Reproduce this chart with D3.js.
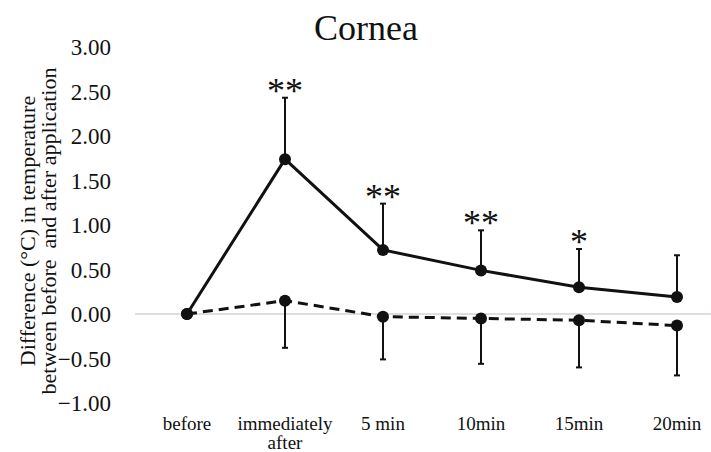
<!DOCTYPE html>
<html>
<head>
<meta charset="utf-8">
<script src="https://cdn.jsdelivr.net/npm/d3@7"></script>
<style>
  html, body { margin: 0; padding: 0; background: #fff; }
  svg { display: block; }
  svg text { font-family: "Liberation Serif", "Times New Roman", serif !important; }
</style>
</head>
<body>
<svg id="chart" width="711" height="452"></svg>
<script>
const categories = ["before", "immediately\nafter", "5 min", "10min", "15min", "20min"];
const solidMean = [0, 1.74, 0.72, 0.49, 0.30, 0.19];
const solidErr  = [0, 0.69, 0.52, 0.45, 0.43, 0.47];
const dashedMean = [0, 0.15, -0.03, -0.05, -0.07, -0.13];
const dashedErr  = [0, 0.53, 0.48, 0.51, 0.53, 0.56];
const stars = ["", "**", "**", "**", "*", ""];
const yTicks = [3, 2.5, 2, 1.5, 1, 0.5, 0, -0.5, -1];
const title = "Cornea";
const yTitle = ["Difference (°C) in temperature", "between before  and after application"];

const svg = d3.select("#chart");
const x = d3.scalePoint().domain(categories).range([187, 677]);
const y = d3.scaleLinear().domain([-1, 3]).range([403, 47]);

// title
svg.append("text").attr("x", 366).attr("y", 40).attr("text-anchor", "middle")
  .attr("font-size", 36).attr("fill", "#111").text(title);

// y tick labels
const yAxis = d3.axisLeft(y).tickValues(yTicks).tickFormat(d3.format(".2f")).tickSize(0).tickPadding(0);
const gy = svg.append("g").attr("transform", "translate(111,0)").call(yAxis);
gy.attr("font-family", null);
gy.select(".domain").remove();
gy.selectAll("text").attr("font-size", 23).attr("fill", "#111").attr("dy", "0.34em");

// y axis title
yTitle.forEach((t, i) => {
  svg.append("text")
    .attr("transform", `translate(${35 + i * 21},231) rotate(-90)`)
    .attr("text-anchor", "middle").attr("font-size", 22).attr("fill", "#111")
    .style("white-space", "pre").text(t);
});

// zero line
svg.append("line").attr("x1", 135).attr("x2", 711).attr("y1", y(0)).attr("y2", y(0))
  .attr("stroke", "#e2dcdc").attr("stroke-width", 2);

// x labels
categories.forEach(c => {
  const lines = c.split("\n");
  const t = svg.append("text").attr("text-anchor", "middle").attr("font-size", 19).attr("fill", "#111");
  lines.forEach((l, i) => {
    t.append("tspan").attr("x", x(c)).attr("y", 430 + i * 19).text(l);
  });
});

const line = d3.line().x(d => x(d.c)).y(d => y(d.v));
const solidData = categories.map((c, i) => ({c, v: solidMean[i], e: solidErr[i], s: stars[i]}));
const dashedData = categories.map((c, i) => ({c, v: dashedMean[i], e: dashedErr[i]}));

// error bars
function errBars(data, dir) {
  const g = svg.append("g").attr("stroke", "#111").attr("stroke-width", 2);
  data.filter(d => d.e > 0).forEach(d => {
    const end = d.v + dir * d.e;
    g.append("line").attr("x1", x(d.c)).attr("x2", x(d.c)).attr("y1", y(d.v)).attr("y2", y(end));
    g.append("line").attr("x1", x(d.c) - 3).attr("x2", x(d.c) + 3).attr("y1", y(end)).attr("y2", y(end));
  });
}
errBars(dashedData, -1);
errBars(solidData, 1);

svg.append("path").datum(dashedData).attr("d", line).attr("fill", "none")
  .attr("stroke", "#111").attr("stroke-width", 3).attr("stroke-dasharray", "10,6");
svg.append("path").datum(solidData).attr("d", line).attr("fill", "none")
  .attr("stroke", "#111").attr("stroke-width", 3);

svg.append("g").selectAll("circle").data(dashedData).join("circle")
  .attr("cx", d => x(d.c)).attr("cy", d => y(d.v)).attr("r", 6).attr("fill", "#111");
svg.append("g").selectAll("circle").data(solidData).join("circle")
  .attr("cx", d => x(d.c)).attr("cy", d => y(d.v)).attr("r", 6).attr("fill", "#111");

// significance stars
svg.append("g").selectAll("text").data(solidData.filter(d => d.s)).join("text")
  .attr("x", d => x(d.c)).attr("y", d => y(d.v + d.e) + 5)
  .attr("text-anchor", "middle").attr("font-size", 36).attr("fill", "#111")
  .text(d => d.s);
</script>
</body>
</html>
